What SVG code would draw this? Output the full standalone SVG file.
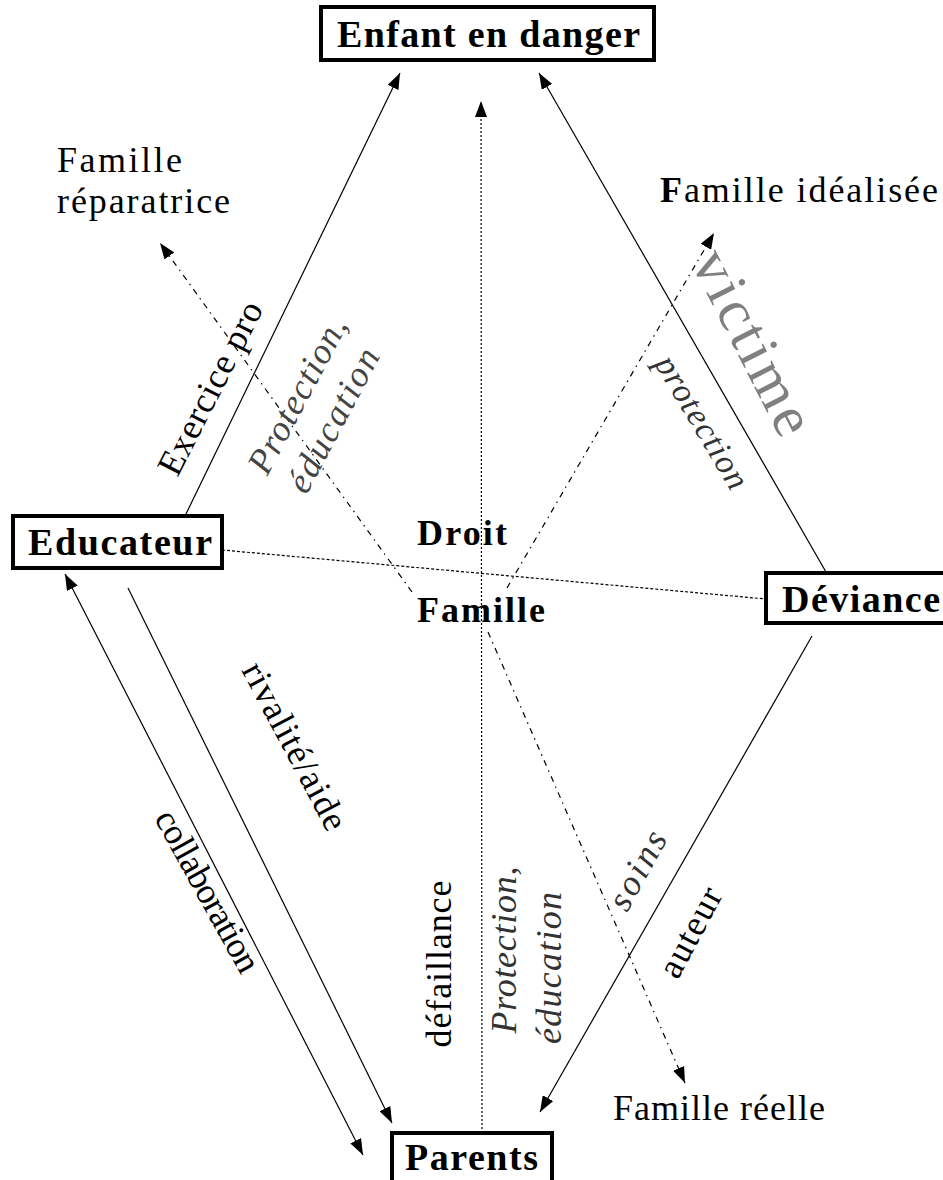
<svg xmlns="http://www.w3.org/2000/svg" width="943" height="1180" viewBox="0 0 943 1180">
<defs>
<style>
text{font-family:"Liberation Serif","Times New Roman",serif;fill:#000}
.box{fill:#fff;stroke:#000;stroke-width:4}
.nb{font-weight:bold;font-size:38px}
.cb{font-weight:bold;font-size:36px}
.lab{font-size:36px}
.it{font-style:italic}
.ln{fill:none;stroke:#000;stroke-width:1.2}
.dot{stroke-dasharray:2 2}
.dash{stroke-dasharray:3 2}
.dd{stroke-dasharray:6 5 1.5 5}
</style>
<marker id="ah" viewBox="0 0 16 12" refX="16" refY="6" markerWidth="16" markerHeight="12" markerUnits="userSpaceOnUse" orient="auto-start-reverse">
<path d="M0,0 L16,6 L0,12 Z" fill="#000"/>
</marker>
</defs>
<rect width="943" height="1180" fill="#fff"/>

<g id="connectors">
<line class="ln" x1="185" y1="516" x2="400" y2="73" marker-end="url(#ah)"/>
<line class="ln" x1="826" y1="572" x2="539" y2="73" marker-end="url(#ah)"/>
<line class="ln dot" x1="482" y1="1133" x2="481" y2="101" marker-end="url(#ah)"/>
<line class="ln dash" x1="222" y1="550" x2="766" y2="599"/>
<line class="ln dd" x1="412" y1="592" x2="160" y2="243" marker-end="url(#ah)"/>
<line class="ln dd" x1="507" y1="588" x2="714" y2="233" marker-end="url(#ah)"/>
<line class="ln dd" x1="488" y1="632" x2="685" y2="1083" marker-end="url(#ah)"/>
<line class="ln" x1="812" y1="636" x2="540" y2="1112" marker-end="url(#ah)"/>
<line class="ln" x1="65" y1="574" x2="363" y2="1155" marker-start="url(#ah)" marker-end="url(#ah)"/>
<line class="ln" x1="128" y1="588" x2="392" y2="1123" marker-end="url(#ah)"/>
</g>

<g id="labels">
<text class="lab" transform="translate(210,388) rotate(-63)" x="0" y="12" text-anchor="middle" textLength="190">Exercice pro</text>
<text class="lab it" style="fill:#444" transform="translate(297,395) rotate(-62)" x="0" y="12" text-anchor="middle" textLength="172">Protection,</text>
<text class="lab it" style="fill:#444" transform="translate(333,420) rotate(-62)" x="0" y="12" text-anchor="middle" textLength="158">éducation</text>
<text style="font-size:60px;fill:#808080" transform="translate(752,343) rotate(63)" x="0" y="18" text-anchor="middle" textLength="200">victime</text>
<text class="it" style="font-size:34px;fill:#333" transform="translate(702,422) rotate(59)" x="0" y="11" text-anchor="middle" textLength="150">protection</text>
<text class="lab" transform="translate(295,746) rotate(62)" x="0" y="12" text-anchor="middle" textLength="185">rivalité/aide</text>
<text class="lab" transform="translate(208,891) rotate(61)" x="0" y="12" text-anchor="middle" textLength="180">collaboration</text>
<text class="lab" transform="translate(451,964) rotate(-90)" x="0" y="0" text-anchor="middle" textLength="167">défaillance</text>
<text class="lab it" style="fill:#333" transform="translate(516,950) rotate(-90)" x="0" y="0" text-anchor="middle" textLength="167">Protection,</text>
<text class="lab it" style="fill:#333" transform="translate(561,968) rotate(-90)" x="0" y="0" text-anchor="middle" textLength="152">éducation</text>
<text class="lab it" style="fill:#333" transform="translate(637,870) rotate(-61)" x="0" y="12" text-anchor="middle" textLength="85">soins</text>
<text class="lab" transform="translate(690,932) rotate(-62)" x="0" y="12" text-anchor="middle" textLength="97">auteur</text>
</g>

<g id="node-enfant">
<rect class="box" x="321" y="7" width="333" height="53"/>
<text class="nb" x="337" y="47" textLength="303">Enfant en danger</text>
</g>
<g id="node-educateur">
<rect class="box" x="13" y="516" width="209" height="52"/>
<text class="nb" x="28" y="555" textLength="184">Educateur</text>
</g>
<g id="node-deviance">
<rect class="box" x="766" y="573" width="190" height="50"/>
<text class="nb" x="782" y="612" textLength="158">Déviance</text>
</g>
<g id="node-parents">
<rect class="box" x="392" y="1133" width="160" height="60"/>
<text class="nb" x="405" y="1170" textLength="133">Parents</text>
</g>
<g id="node-famille-reparatrice">
<text class="lab" x="57" y="172" textLength="125">Famille</text>
<text class="lab" x="57" y="213" textLength="173">réparatrice</text>
</g>
<g id="node-famille-idealisee">
<text class="lab" x="660" y="202" textLength="278"><tspan font-weight="bold">F</tspan>amille idéalisée</text>
</g>
<g id="node-famille-reelle">
<text class="lab" x="613" y="1120" textLength="212">Famille réelle</text>
</g>
<g id="node-centre">
<text class="cb" x="417" y="545" textLength="90">Droit</text>
<text class="cb" x="417" y="622" textLength="128">Famille</text>
</g>
</svg>
